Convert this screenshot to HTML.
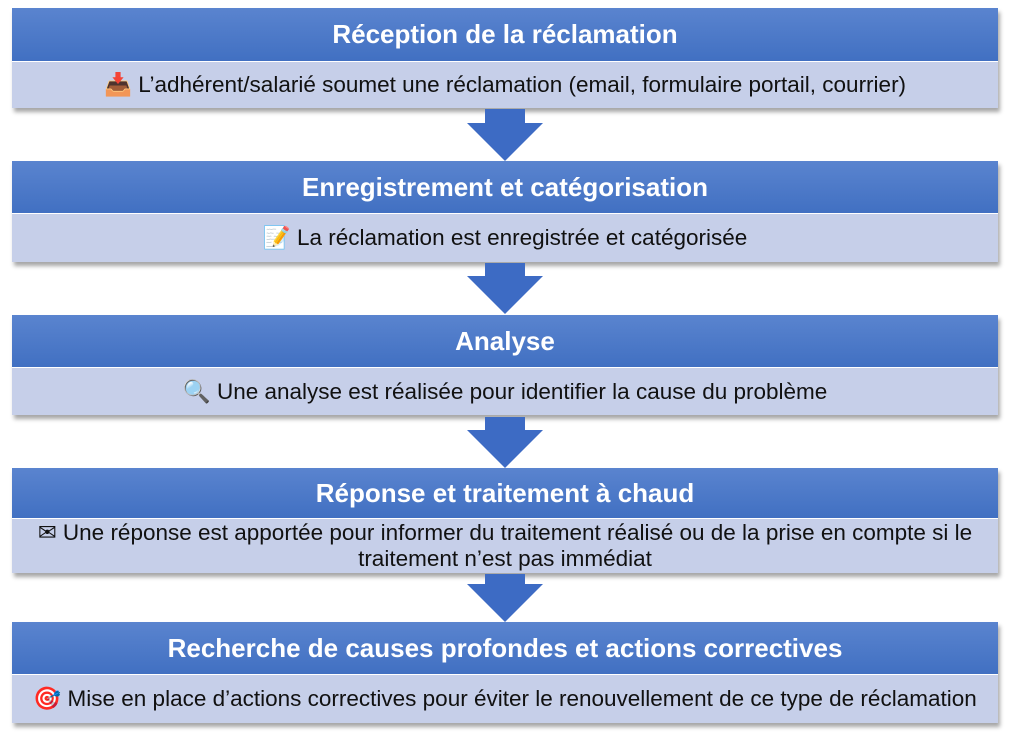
<!DOCTYPE html>
<html><head><meta charset="utf-8"><style>
body{margin:0;width:1024px;height:742px;background:#fff;font-family:"Liberation Sans","DejaVu Sans",sans-serif;position:relative;overflow:hidden}
.b{position:absolute;left:12px;width:986px;box-shadow:2px 4px 4px rgba(0,0,0,.35)}
.h{background:linear-gradient(#5a84cf,#4170c2);color:#fff;font-weight:bold;font-size:26px;text-align:center;height:52px;line-height:52px;white-space:nowrap}
.d{background:#c6cfe9;color:#111;font-size:22.5px;text-align:center;border-top:1px solid #fff;white-space:nowrap}
</style></head><body>
<div class="b" style="top:8px"><div class="h" style="height:53px;line-height:53px">Réception de la réclamation</div><div class="d" style="height:46px;line-height:46px">📥 L’adhérent/salarié soumet une réclamation (email, formulaire portail, courrier)</div></div>
<div class="b" style="top:161px"><div class="h">Enregistrement et catégorisation</div><div class="d" style="height:48px;line-height:48px">📝 La réclamation est enregistrée et catégorisée</div></div>
<div class="b" style="top:315px"><div class="h">Analyse</div><div class="d" style="height:47px;line-height:47px">🔍 Une analyse est réalisée pour identifier la cause du problème</div></div>
<div class="b" style="top:468px"><div class="h" style="height:50px;line-height:50px">Réponse et traitement à chaud</div><div class="d" style="height:53px;line-height:26px;padding-top:1px">✉ Une réponse est apportée pour informer du traitement réalisé ou de la prise en compte si le<br>traitement n’est pas immédiat</div></div>
<div class="b" style="top:622px"><div class="h">Recherche de causes profondes et actions correctives</div><div class="d" style="height:48px;line-height:48px">🎯 Mise en place d’actions correctives pour éviter le renouvellement de ce type de réclamation</div></div>
<svg width="1024" height="742" style="position:absolute;left:0;top:0">
<g fill="#3d6bc4">
<path d="M485 109H525V123H543L505 161L467 123H485Z"/>
<path d="M485 263H525V276H543L505 314L467 276H485Z"/>
<path d="M485 417H525V430H543L505 468L467 430H485Z"/>
<path d="M485 574H525V584H543L505 622L467 584H485Z"/>
</g></svg>
</body></html>
